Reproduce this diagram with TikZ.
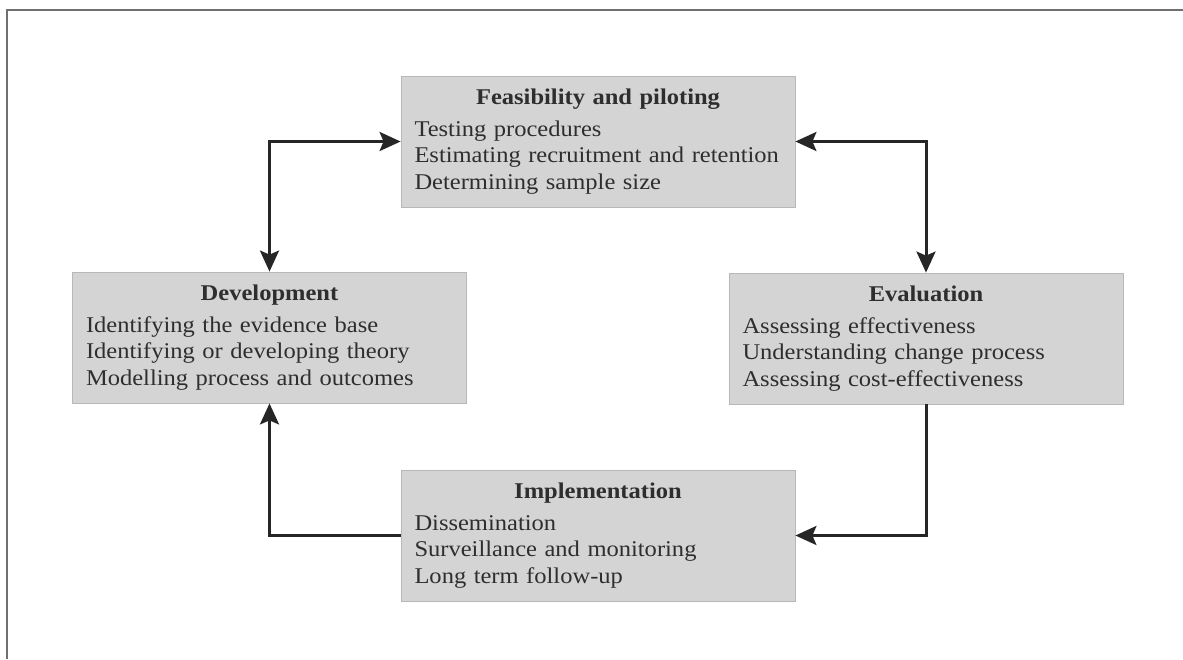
\documentclass[tikz,border=0pt]{standalone}
\usepackage{fontspec}
\setmainfont{Liberation Serif}[FakeStretch=1.09]
\usetikzlibrary{arrows.meta}

\definecolor{boxfill}{HTML}{D4D4D4}
\definecolor{boxline}{HTML}{B8B8B8}
\definecolor{ink}{HTML}{2E2E2E}
\definecolor{arrowc}{HTML}{262626}
\definecolor{framec}{HTML}{707070}

% a stage box: bold centred heading followed by three left-aligned lines
\newcommand\stagetext[4]{\makebox[\hsize]{\bfseries #1}\\[5.5pt]\mbox{#2}\\\mbox{#3}\\\mbox{#4}}

\tikzset{
  headtip/.tip={Stealth[length=21pt,width=19pt,inset=4pt]},
  stage/.style={draw=boxline, line width=0.8pt, fill=boxfill,
    minimum width=394pt, minimum height=131pt, text width=367pt,
    inner xsep=13.5pt, inner ysep=0pt, align=left, text=ink,
    font=\fontsize{22.5}{26.5}\selectfont},
  link/.style={draw=arrowc, line width=3pt, -headtip},
  twoway/.style={draw=arrowc, line width=3pt, headtip-headtip},
  frameline/.style={draw=framec, line width=1.2pt}
}

\begin{document}
\begin{tikzpicture}[x=1pt,y=-1pt]
  \useasboundingbox (0,0) rectangle (1183,659);

  % outer frame (top and left edges only)
  \coordinate (fa) at (7,659);
  \coordinate (fb) at (7,10);
  \coordinate (fc) at (1183,10);
  \draw[frameline] (fa) -- (fb) -- (fc);

  % the four stages
  \node[stage] (feas) at (598,141.5) {\stagetext{Feasibility and piloting}{Testing procedures}{Estimating recruitment and retention}{Determining sample size}};
  \node[stage] (dev) at (269.5,337.5) {\stagetext{Development}{Identifying the evidence base}{Identifying or developing theory}{Modelling process and outcomes}};
  \node[stage] (eval) at (926,338.5) {\stagetext{Evaluation}{Assessing effectiveness}{Understanding change process}{Assessing cost-effectiveness}};
  \node[stage] (impl) at (598,535.5) {\stagetext{Implementation}{Dissemination}{Surveillance and monitoring}{Long term follow-up}};

  % connectors
  \draw[twoway] (dev.north) |- (feas.west);
  \draw[twoway] (eval.north) |- (feas.east);
  \draw[link] (eval.south) |- (impl.east);
  \draw[link] (impl.west) -| (dev.south);
\end{tikzpicture}
\end{document}
